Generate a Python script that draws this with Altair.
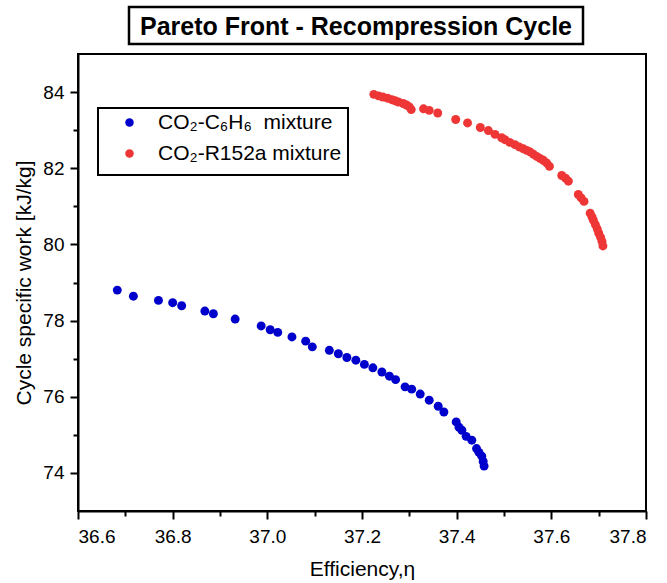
import altair as alt
import pandas as pd

# ---- data ----
blue_x = [36.683, 36.717, 36.770, 36.800, 36.819, 36.868, 36.886, 36.932, 36.987, 37.006,
          37.022, 37.052, 37.081, 37.095, 37.131, 37.150, 37.168, 37.187, 37.205, 37.223,
          37.242, 37.258, 37.271, 37.291, 37.305, 37.323, 37.342, 37.361, 37.373, 37.399,
          37.405, 37.411, 37.420, 37.432, 37.442, 37.447, 37.453, 37.456, 37.458]
blue_y = [78.80, 78.64, 78.53, 78.47, 78.39, 78.25, 78.18, 78.04, 77.86, 77.76,
          77.69, 77.57, 77.46, 77.31, 77.22, 77.13, 77.03, 76.96, 76.85, 76.76,
          76.65, 76.54, 76.45, 76.26, 76.20, 76.07, 75.91, 75.75, 75.60, 75.34,
          75.20, 75.12, 74.96, 74.86, 74.64, 74.54, 74.44, 74.30, 74.18]

red_x = [37.225, 37.235, 37.244, 37.254, 37.263, 37.270, 37.277, 37.287, 37.294, 37.300,
         37.304, 37.330, 37.342, 37.360, 37.398, 37.423, 37.450, 37.467, 37.481, 37.495,
         37.502, 37.512, 37.523, 37.532, 37.541, 37.548, 37.555, 37.562, 37.569, 37.576,
         37.583, 37.590, 37.596, 37.622, 37.630, 37.636, 37.657, 37.663, 37.669, 37.682,
         37.686, 37.689, 37.693, 37.697, 37.700, 37.704, 37.707, 37.709]
red_y = [83.94, 83.90, 83.87, 83.84, 83.80, 83.77, 83.74, 83.70, 83.66, 83.61,
         83.54, 83.56, 83.52, 83.45, 83.28, 83.19, 83.07, 82.99, 82.89, 82.80,
         82.75, 82.68, 82.62, 82.56, 82.51, 82.47, 82.43, 82.37, 82.31, 82.26,
         82.21, 82.14, 82.05, 81.81, 81.74, 81.66, 81.31, 81.22, 81.13, 80.82,
         80.72, 80.63, 80.52, 80.41, 80.30, 80.19, 80.08, 79.96]

series_names = ["CO\u2082-C\u2086H\u2086\u00a0 mixture", "CO\u2082-R152a mixture"]
series_colors = ["#0000CC", "#EE3636"]

x_major = [36.6, 36.8, 37.0, 37.2, 37.4, 37.6, 37.8]
x_minor = [36.7, 36.9, 37.1, 37.3, 37.5, 37.7]
y_major = [74, 76, 78, 80, 82, 84]
y_minor = [75, 77, 79, 81, 83]

title_text = "Pareto Front - Recompression Cycle"
x_title = "Efficiency,\u03b7"
y_title = "Cycle specific work [kJ/kg]"

df = pd.concat([
    pd.DataFrame({"eff": blue_x, "work": blue_y, "mix": series_names[0]}),
    pd.DataFrame({"eff": red_x, "work": red_y, "mix": series_names[1]}),
], ignore_index=True)

FONT = "Liberation Sans"
W, H = 568, 457

xscale = alt.Scale(domain=[36.6, 37.8], nice=False, zero=False)
yscale = alt.Scale(domain=[73, 85], nice=False, zero=False)

points = alt.Chart(df).mark_circle(size=80, opacity=1).encode(
    x=alt.X("eff:Q", scale=xscale,
            axis=alt.Axis(values=x_major, format=".1f", title=x_title, orient="bottom",
                          tickSize=8, labelPadding=8, titlePadding=12)),
    y=alt.Y("work:Q", scale=yscale,
            axis=alt.Axis(values=y_major, format="d", title=y_title, orient="left",
                          tickSize=8, labelPadding=6, titlePadding=8)),
    color=alt.Color("mix:N",
                    scale=alt.Scale(domain=series_names, range=series_colors),
                    legend=alt.Legend(orient="none", legendX=41, legendY=58, title=None,
                                      padding=0, rowPadding=9, labelOffset=18,
                                      symbolType="circle", symbolSize=72,
                                      labelFontSize=21, labelFont=FONT, labelLimit=0,
                                      labelColor="black")),
)

minor = alt.Chart(df).mark_point(opacity=0).encode(
    x=alt.X("eff:Q", scale=xscale,
            axis=alt.Axis(values=x_minor, labels=False, title=None, orient="bottom",
                          tickSize=5, domain=False, grid=False)),
    y=alt.Y("work:Q", scale=yscale,
            axis=alt.Axis(values=y_minor, labels=False, title=None, orient="left",
                          tickSize=5, domain=False, grid=False)),
)

one = alt.Data(values=[{"k": 1}])

legend_box = alt.Chart(one).mark_rect(fill=None, stroke="black", strokeWidth=2).encode(
    x=alt.value(20), x2=alt.value(270), y=alt.value(54), y2=alt.value(121))

title_box = alt.Chart(one).mark_rect(fill="white", stroke="black", strokeWidth=2.5).encode(
    x=alt.value(51), x2=alt.value(505), y=alt.value(-47), y2=alt.value(-10))

title = alt.Chart(one).mark_text(text=title_text, font=FONT, fontSize=25,
                                 fontWeight="bold", align="center",
                                 baseline="middle", color="black").encode(
    x=alt.value(278), y=alt.value(-27))

chart = alt.layer(title_box, title, legend_box, points, minor).resolve_axis(
    x="independent", y="independent"
).properties(
    width=W, height=H,
    autosize=alt.AutoSizeParams(type="none"),
    padding={"left": 78, "top": 54, "right": 21, "bottom": 72},
).configure_view(
    stroke="black", strokeWidth=2
).configure_axis(
    labelFont=FONT, titleFont=FONT, labelFontSize=19, titleFontSize=21,
    labelColor="black", titleColor="black", titleFontWeight="normal",
    domainColor="black", domainWidth=2, tickColor="black", tickWidth=2,
    grid=False,
)

chart.save("out.html", embed_options={"renderer": "svg", "actions": False})
